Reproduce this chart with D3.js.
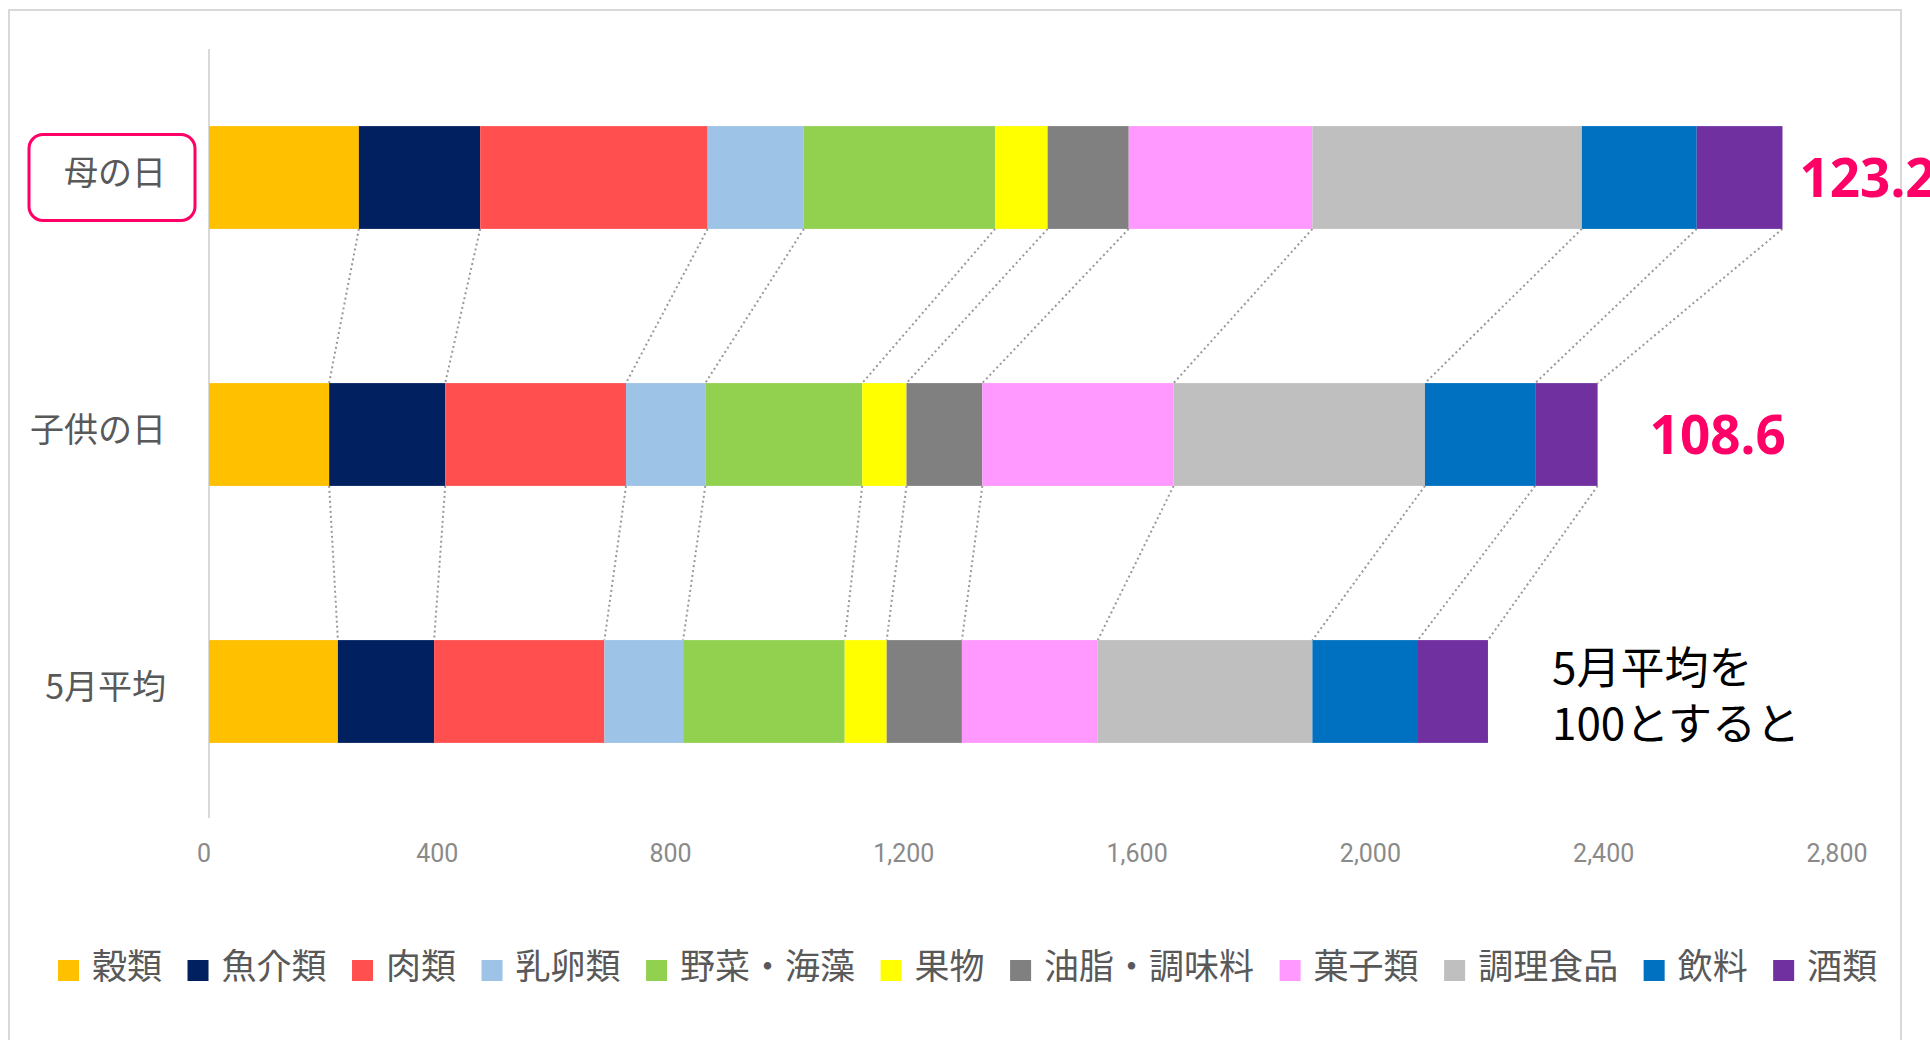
<!DOCTYPE html>
<html>
<head>
<meta charset="utf-8">
<script src="https://cdn.jsdelivr.net/npm/d3@7"></script>
<style>
  body { margin: 0; background: #fff; }
  svg { display: block; }
</style>
</head>
<body>
<svg id="chart"></svg>
<script>
// Data
const categories = ["母の日", "子供の日", "5月平均"];
const seriesNames = ["穀類", "魚介類", "肉類", "乳卵類", "野菜・海藻", "果物", "油脂・調味料", "菓子類", "調理食品", "飲料", "酒類"];
const seriesColors = ["#FFC000", "#002060", "#FF4F4F", "#9DC3E6", "#92D050", "#FFFF00", "#808080", "#FF99FF", "#BFBFBF", "#0070C0", "#7030A0"];
const mothersDay = [257, 208, 390, 165, 328, 90, 139, 315, 462, 197, 147];
const childrensDay = [206, 199, 310, 136, 269, 76, 130, 328, 431, 189, 107];
const mayAverage = [221, 165, 292, 135, 277, 72, 129, 233, 368, 181, 120];
const indexLabels = ["123.2", "108.6", null];
const xTicks = [0, 400, 800, 1200, 1600, 2000, 2400, 2800];

const W = 1930, H = 1040;
const jp = "'Noto Sans CJK JP', 'Noto Sans', sans-serif";

const svg = d3.select("#chart")
  .attr("width", W)
  .attr("height", H);

// outer frame (bottom edge runs off the picture)
svg.append("rect")
  .attr("x", 9).attr("y", 10)
  .attr("width", 1892).attr("height", 1060)
  .attr("fill", "none")
  .attr("stroke", "#d9d9d9")
  .attr("stroke-width", 2);

// build rows for the stack
const rows = categories.map((c, i) => {
  const vals = [mothersDay, childrensDay, mayAverage][i];
  const row = {cat: c};
  seriesNames.forEach((s, j) => row[s] = vals[j]);
  return row;
});
const stacked = d3.stack().keys(seriesNames)(rows);

const x = d3.scaleLinear()
  .domain([0, 2800])
  .range([209, 209 + 2800 * 0.5832]);

const y = d3.scaleBand()
  .domain(categories)
  .range([49, 820])
  .paddingInner(0.6)
  .paddingOuter(0.3);

const color = d3.scaleOrdinal().domain(seriesNames).range(seriesColors);

// x axis tick labels (no axis line)
const xAxis = svg.append("g")
  .attr("transform", `translate(0,${844})`)
  .call(d3.axisBottom(x).tickValues(xTicks).tickSize(0).tickPadding(0).tickFormat(d3.format(",")));
xAxis.select(".domain").remove();
xAxis.selectAll("text")
  .attr("dx", -5.5)
  .attr("dy", "0.71em")
  .attr("fill", "#8a8a8a")
  .style("font-family", "Roboto, 'Noto Sans', sans-serif")
  .style("font-size", "25px");

// category axis line
svg.append("line")
  .attr("x1", x(0)).attr("x2", x(0))
  .attr("y1", 49).attr("y2", 818)
  .attr("stroke", "#d9d9d9")
  .attr("stroke-width", 2);

// dotted connectors between bars at every segment end
const conn = svg.append("g");
stacked.forEach(layer => {
  for (let i = 0; i < categories.length - 1; i++) {
    const a = layer[i], b = layer[i + 1];
    conn.append("line")
      .attr("x1", x(a[1])).attr("y1", y(categories[i]) + y.bandwidth())
      .attr("x2", x(b[1])).attr("y2", y(categories[i + 1]))
      .attr("stroke", "#999")
      .attr("stroke-width", 2)
      .attr("stroke-dasharray", "2,3");
  }
});

// bars
svg.append("g")
  .selectAll("g")
  .data(stacked)
  .join("g")
  .attr("fill", d => color(d.key))
  .selectAll("rect")
  .data(d => d)
  .join("rect")
  .attr("x", d => x(d[0]))
  .attr("y", d => y(d.data.cat))
  .attr("width", d => x(d[1]) - x(d[0]))
  .attr("height", y.bandwidth());

// category labels
svg.append("g")
  .selectAll("text")
  .data(categories)
  .join("text")
  .attr("x", 166)
  .attr("y", d => y(d) + y.bandwidth() / 2 - 5)
  .attr("dy", "0.36em")
  .attr("text-anchor", "end")
  .attr("fill", "#595959")
  .style("font-family", jp)
  .style("font-size", "34px")
  .text(d => d);

// highlight box around 母の日
svg.append("rect")
  .attr("x", 29).attr("y", y(categories[0]) + y.bandwidth() / 2 - 43)
  .attr("width", 166).attr("height", 86)
  .attr("rx", 14)
  .attr("fill", "none")
  .attr("stroke", "#FF0066")
  .attr("stroke-width", 3);

// index labels
const totals = rows.map(r => d3.sum(seriesNames, s => r[s]));
svg.append("g")
  .selectAll("text")
  .data(categories.filter((c, i) => indexLabels[i]))
  .join("text")
  .attr("x", (d, i) => i === 0 ? x(totals[0]) + 17 : x(totals[1]) + 52)
  .attr("y", d => y(d) + y.bandwidth() / 2)
  .attr("dy", "0.36em")
  .attr("fill", "#FF0066")
  .style("font-family", "'Noto Sans', sans-serif")
  .style("font-weight", "bold")
  .style("font-size", "53px")
  .text((d, i) => indexLabels[i]);

// note
const note = svg.append("text")
  .attr("fill", "#000")
  .style("font-family", jp)
  .style("font-size", "44px");
note.append("tspan").attr("x", 1552).attr("y", 668).attr("dy", "0.36em").text("5月平均を");
note.append("tspan").attr("x", 1552).attr("y", 724).attr("dy", "0.36em").text("100とすると");

// legend
const legend = svg.append("g");
let lx = 58;
seriesNames.forEach((s, i) => {
  legend.append("rect")
    .attr("x", lx).attr("y", 960)
    .attr("width", 21).attr("height", 21)
    .attr("fill", seriesColors[i]);
  const t = legend.append("text")
    .attr("x", lx + 34).attr("y", 966)
    .attr("dy", "0.36em")
    .attr("fill", "#595959")
    .style("font-family", jp)
    .style("font-size", "35px")
    .text(s);
  lx += 34 + t.node().getComputedTextLength() + 25.5;
});
</script>
</body>
</html>
